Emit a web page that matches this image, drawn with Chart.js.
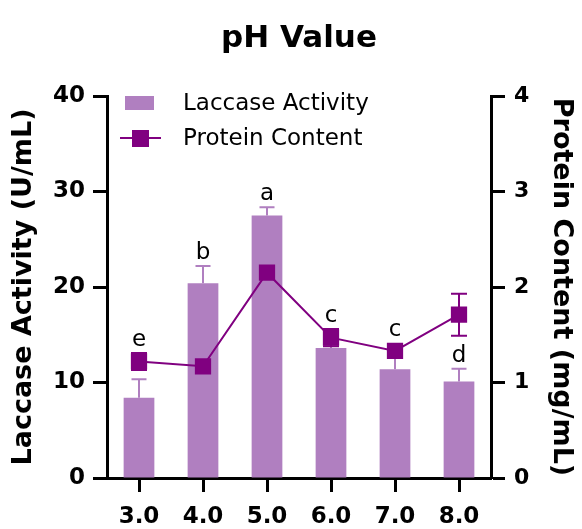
<!DOCTYPE html>
<html>
<head>
<meta charset="utf-8">
<script src="https://cdn.jsdelivr.net/npm/chart.js@4"></script>
<style>
  body { margin: 0; background: #fff; }
</style>
</head>
<body>
<canvas id="chart" width="582" height="529"></canvas>
<script>
// data
const phLabels = ['3.0', '4.0', '5.0', '6.0', '7.0', '8.0'];
const laccase = [8.4, 20.4, 27.5, 13.6, 11.4, 10.1];
const laccaseSd = [1.95, 1.8, 0.85, 0.35, 1.25, 1.35];
const protein = [1.22, 1.17, 2.15, 1.47, 1.33, 1.71];
const proteinSd = [0.09, 0.05, 0.05, 0.09, 0.06, 0.22];
const letters = ['e', 'b', 'a', 'c', 'c', 'd'];
const chartTitle = 'pH Value';

const barColor = '#B07FC0';
const lineColor = '#800080';
const FONT = "'DejaVu Sans', sans-serif";

Chart.defaults.font.family = FONT;
Chart.defaults.color = '#000';

// 误差线 + 显著性字母 + 图例 + 标题
const extras = {
  id: 'extras',
  afterDatasetDraw(chart, args) {
    const ctx = chart.ctx;
    const x = chart.scales.x;
    ctx.save();
    ctx.lineWidth = 2;
    if (args.index === 0) {
      const y = chart.scales.y;
      ctx.strokeStyle = barColor;
      laccase.forEach((v, i) => {
        const px = x.getPixelForValue(i);
        const y0 = y.getPixelForValue(v);
        const y1 = y.getPixelForValue(v + laccaseSd[i]);
        ctx.beginPath();
        ctx.moveTo(px, y0);
        ctx.lineTo(px, y1);
        ctx.moveTo(px - 7.5, y1);
        ctx.lineTo(px + 7.5, y1);
        ctx.stroke();
      });
    } else {
      const y = chart.scales.y1;
      ctx.strokeStyle = lineColor;
      protein.forEach((v, i) => {
        const px = x.getPixelForValue(i);
        const yl = y.getPixelForValue(v - proteinSd[i]);
        const yh = y.getPixelForValue(v + proteinSd[i]);
        ctx.beginPath();
        ctx.moveTo(px, yl);
        ctx.lineTo(px, yh);
        ctx.moveTo(px - 8, yl);
        ctx.lineTo(px + 8, yl);
        ctx.moveTo(px - 8, yh);
        ctx.lineTo(px + 8, yh);
        ctx.stroke();
      });
    }
    ctx.restore();
  },
  afterDatasetsDraw(chart) {
    const ctx = chart.ctx;
    const area = chart.chartArea;
    const x = chart.scales.x;
    const y = chart.scales.y;
    const y1 = chart.scales.y1;
    ctx.save();

    // 标题（居中于绘图区）
    ctx.font = 'bold 31px ' + FONT;
    ctx.fillStyle = '#000';
    ctx.textAlign = 'center';
    ctx.textBaseline = 'alphabetic';
    ctx.fillText(chartTitle, (area.left + area.right) / 2, 47);

    ctx.font = '23px ' + FONT;
    letters.forEach((t, i) => {
      const px = x.getPixelForValue(i);
      let base = y.getPixelForValue(laccase[i] + laccaseSd[i]) - 7;
      const ym = y1.getPixelForValue(protein[i]);
      const reach = Math.max(8, ym - y1.getPixelForValue(protein[i] + proteinSd[i]));
      const mTop = ym - reach, mBot = ym + reach;
      if (base > mTop - 2 && base - 18 < mBot + 2) {
        base = mTop - 7;
      }
      ctx.fillText(t, px, base);
    });

    // 图例
    const ds = chart.data.datasets;
    ctx.fillStyle = barColor;
    ctx.fillRect(125, 96, 29, 14);
    ctx.strokeStyle = lineColor;
    ctx.lineWidth = 2;
    ctx.beginPath();
    ctx.moveTo(120, 138);
    ctx.lineTo(161, 138);
    ctx.stroke();
    ctx.fillStyle = lineColor;
    ctx.fillRect(132, 130, 17, 17);
    ctx.fillStyle = '#000';
    ctx.textAlign = 'left';
    ctx.fillText(ds[0].label, 183, 110);
    ctx.fillText(ds[1].label, 183, 145);
    ctx.restore();
  }
};

const axisGrid = {
  drawOnChartArea: false,
  color: '#000',
  tickColor: '#000',
  tickLength: 14,
  tickWidth: 3
};
const axisBorder = { color: '#000', width: 3 };

new Chart(document.getElementById('chart'), {
  data: {
    labels: phLabels,
    datasets: [
      {
        type: 'bar',
        label: 'Laccase Activity',
        data: laccase,
        yAxisID: 'y',
        backgroundColor: barColor,
        categoryPercentage: 1,
        barPercentage: 0.48,
        order: 2
      },
      {
        type: 'line',
        label: 'Protein Content',
        data: protein,
        yAxisID: 'y1',
        borderColor: lineColor,
        borderWidth: 2,
        pointStyle: 'rect',
        pointRadius: 11.5,
        pointBackgroundColor: lineColor,
        pointBorderColor: lineColor,
        pointBorderWidth: 0,
        tension: 0,
        order: 1
      }
    ]
  },
  options: {
    responsive: false,
    animation: false,
    devicePixelRatio: 1,
    layout: { padding: { top: 96, left: 0, right: 0, bottom: 0 } },
    plugins: {
      legend: { display: false },
      tooltip: { enabled: false },
      title: { display: false }
    },
    scales: {
      x: {
        offset: true,
        grid: { ...axisGrid, offset: false },
        border: axisBorder,
        ticks: { font: { size: 23, weight: 'bold' }, color: '#000', padding: 11 },
        afterFit: s => { s.height = 51; }
      },
      y: {
        position: 'left',
        min: 0,
        max: 40,
        ticks: { stepSize: 10, font: { size: 23, weight: 'bold' }, color: '#000', padding: 8 },
        grid: axisGrid,
        border: axisBorder,
        title: {
          display: true,
          text: 'Laccase Activity (U/mL)',
          font: { size: 27, weight: 'bold' },
          color: '#000',
          padding: { top: 8, bottom: 0 }
        },
        afterFit: s => { s.width = 107; }
      },
      y1: {
        position: 'right',
        min: 0,
        max: 4,
        ticks: { stepSize: 1, font: { size: 22, weight: 'bold' }, color: '#000', padding: 9 },
        grid: axisGrid,
        border: axisBorder,
        title: {
          display: true,
          text: 'Protein Content (mg/mL)',
          font: { size: 27, weight: 'bold' },
          color: '#000',
          padding: { top: 5, bottom: 0 }
        },
        afterFit: s => { s.width = 91; }
      }
    }
  },
  plugins: [extras]
});
</script>
</body>
</html>
